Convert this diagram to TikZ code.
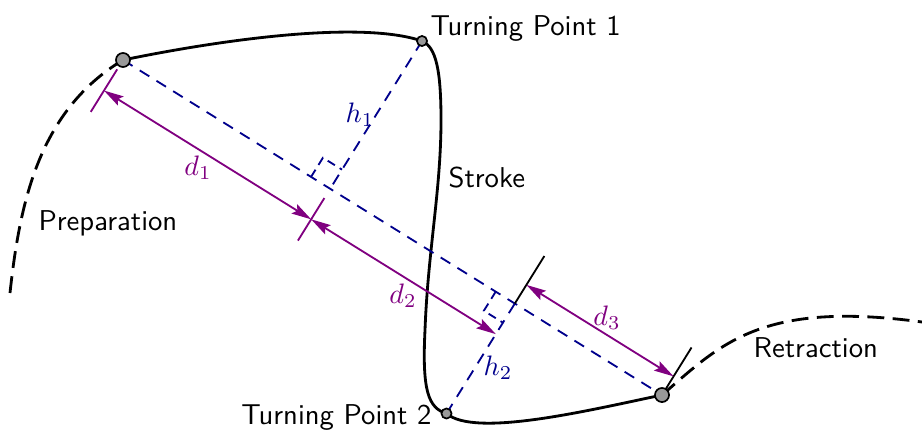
\documentclass[tikz,border=0pt]{standalone}
\usepackage{tikz}
\usetikzlibrary{calc, arrows.meta}

\definecolor{dimviolet}{RGB}{128,0,128}
\definecolor{perpblue}{RGB}{0,0,140}

\newcommand{\dOff}{12.8pt}  % d1, d2 below the chord
\newcommand{\dOffB}{7.8pt}  % d3 above the chord
\newcommand{\rSq}{8pt}      % right angle mark

\begin{document}
\begin{tikzpicture}[
  x=0.0125cm, y=-0.0125cm,
  every node/.style={font=\fontsize{10.2}{12.2}\selectfont\sffamily},
  gesture/.style={line width=1pt},
  phase/.style={line width=1pt, dash pattern=on 6pt off 3pt},
  perp/.style={perpblue, line width=0.65pt, dash pattern=on 4pt off 3pt},
  rmark/.style={perp, dash pattern=on 3pt off 2pt},
  dimline/.style={dimviolet, line width=0.65pt},
  dimarr/.style={dimline, {Stealth[length=7pt,width=3.8pt,inset=1.2pt]}-{Stealth[length=7pt,width=3.8pt,inset=1.2pt]}},
  endtick/.style={black, line width=0.65pt},
  bigdot/.style={circle, draw, semithick, fill=black!40, minimum size=5pt, inner sep=0pt},
  smalldot/.style={circle, draw, semithick, fill=black!40, minimum size=3.6pt, inner sep=0pt},
  txt/.style={inner sep=0pt, anchor=base west},
  dlbl/.style={inner sep=0pt, text=dimviolet},
  hlbl/.style={inner sep=0pt, text=perpblue}
]
\useasboundingbox (0,0) rectangle (922,432);

% key points
\coordinate (A) at (123,60);
\coordinate (T1) at (422,41);
\coordinate (T2) at (446.5,413.5);
\coordinate (B) at (662,395);
\coordinate (P0) at (10,293);
\coordinate (R1) at (922,322);
\coordinate (F1) at ($(A)!(T1)!(B)$);
\coordinate (F2) at ($(A)!(T2)!(B)$);

% preparation / retraction
\draw[phase] (P0) .. controls (20,200) and (40,110) .. (A);
\draw[phase] (B) .. controls (720,345) and (760,300) .. (R1);

% stroke
\draw[gesture] (A) .. controls (220,40) and (360,20) .. (T1)
  .. controls (436,47) and (441,70) .. (441,120)
  .. controls (441,190) and (428,250) .. (425,330)
  .. controls (422,390) and (428,408) .. (T2)
  .. controls (475,438) and (590,410) .. (B);

% chord and heights
\draw[perp] (A) -- (B);
\draw[perp] (T1) -- (F1);
\draw[perp] (T2) -- (F2);
\coordinate (F1a) at ($(F1)!\rSq!(A)$);
\coordinate (F1t) at ($(F1)!\rSq!(T1)$);
\draw[rmark] (F1a) -- ($(F1a)+(F1t)-(F1)$) -- (F1t);
\coordinate (F2a) at ($(F2)!\rSq!(A)$);
\coordinate (F2t) at ($(F2)!\rSq!(T2)$);
\draw[rmark] (F2a) -- ($(F2a)+(F2t)-(F2)$) -- (F2t);

% distances
\draw[dimline] ($(A)!3.9pt!-90:(B)$) -- ($(A)!21.7pt!-90:(B)$);
\draw[dimline] ($(F1)!3.9pt!90:(A)$) -- ($(F1)!21.7pt!90:(A)$);
\draw[dimarr] ($(A)!\dOff!-90:(B)$) -- ($(F1)!\dOff!90:(A)$);
\draw[dimarr] ($(F1)!\dOff!-90:(B)$) -- ($(F2)!\dOff!90:(A)$);
\draw[endtick] (F2) -- ($(F2)!19.9pt!90:(B)$);
\draw[endtick] (B) -- ($(B)!19.9pt!-90:(A)$);
\draw[dimarr] ($(F2)!\dOffB!90:(B)$) -- ($(B)!\dOffB!-90:(A)$);

% points
\node[bigdot] (dA) at (A) {};
\node[bigdot] (dB) at (B) {};
\node[smalldot] (dT1) at (T1) {};
\node[smalldot] (dT2) at (T2) {};

% labels
\node[txt] (lT1) at (430,35) {Turning Point 1};
\node[txt, anchor=base east] (lT2) at (432,424) {Turning Point 2};
\node[txt] (lS) at (448,187) {Stroke};
\node[txt] (lP) at (38,230) {Preparation};
\node[txt] (lR) at (753,357) {Retraction};
\node[dlbl] (ld1) at (198,168) {$d_1$};
\node[dlbl] (ld2) at (403,296) {$d_2$};
\node[dlbl] (ld3) at (607,318) {$d_3$};
\node[hlbl] (lh1) at (360,115) {$h_1$};
\node[hlbl] (lh2) at (498,368) {$h_2$};
\end{tikzpicture}
\end{document}
